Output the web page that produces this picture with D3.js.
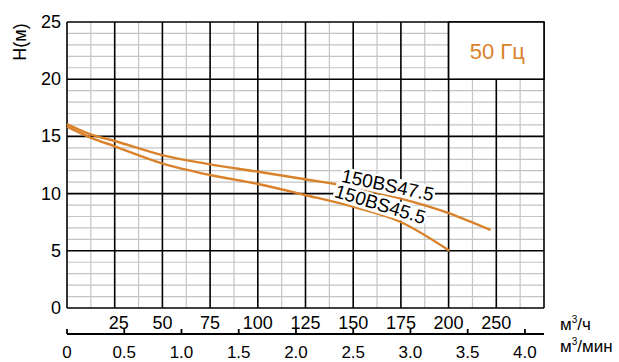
<!DOCTYPE html>
<html><head><meta charset="utf-8">
<script src="https://cdn.jsdelivr.net/npm/d3@7"></script>
<style>body{margin:0;background:#fff}svg{display:block}</style>
</head><body>
<svg id="c" width="619" height="362"></svg>
<script>
// ---- data ----
const flowMin = [0, 0.2, 0.41, 0.83, 1.25, 1.67, 2.08, 2.47, 2.91, 3.34, 3.70];
const head47 = [16.08, 15.2, 14.62, 13.37, 12.56, 11.91, 11.25, 10.6, 9.59, 8.28, 6.82];
const flowMin45 = [0, 0.2, 0.41, 0.83, 1.25, 1.67, 2.08, 2.47, 2.91, 3.34];
const head45 = [15.85, 14.92, 14.16, 12.65, 11.63, 10.84, 9.88, 8.92, 7.54, 5.01];
const seriesNames = ["150BS47.5", "150BS45.5"];
const topTickValues = [25, 50, 75, 100, 125, 150, 175, 200, 225];
const topTickLabels = ["25", "50", "75", "100", "125", "150", "175", "200", "250"];
const bottomTicks = [0, 0.5, 1.0, 1.5, 2.0, 2.5, 3.0, 3.5, 4.0];
const yTicks = [0, 5, 10, 15, 20, 25];

const orange = "#d9822b";
const font = "'Liberation Sans', Arial, sans-serif";
const svg = d3.select("#c");
const L = 67, R = 544, T = 22, B = 308;
const xH = d3.scaleLinear().domain([0, 250]).range([L, R]);        // m³/h
const xM = d3.scaleLinear().domain([0, 250 / 60]).range([L, R]);   // m³/min
const y = d3.scaleLinear().domain([0, 25]).range([B, T]);

// minor grid
const g = svg.append("g");
g.selectAll(".vm").data(d3.range(12.5, 250, 25)).join("line")
  .attr("x1", d => xH(d)).attr("x2", d => xH(d)).attr("y1", T).attr("y2", B)
  .attr("stroke", "#c4c4c4").attr("stroke-width", 1.2);
g.selectAll(".hm").data(d3.range(1, 25).filter(v => v % 5)).join("line")
  .attr("x1", L).attr("x2", R).attr("y1", d => y(d)).attr("y2", d => y(d))
  .attr("stroke", "#c4c4c4").attr("stroke-width", 1.2);
// major grid
g.selectAll(".vM").data(d3.range(0, 251, 25)).join("line")
  .attr("x1", d => xH(d)).attr("x2", d => xH(d)).attr("y1", T).attr("y2", B)
  .attr("stroke", "#000").attr("stroke-width", 1.6);
g.selectAll(".hM").data(yTicks).join("line")
  .attr("x1", L).attr("x2", R).attr("y1", d => y(d)).attr("y2", d => y(d))
  .attr("stroke", "#000").attr("stroke-width", 1.6);

// 50 Hz box
svg.append("rect").attr("x", xH(200)).attr("y", y(25)).attr("width", xH(250) - xH(200))
  .attr("height", y(20) - y(25)).attr("fill", "#fff").attr("stroke", "#000").attr("stroke-width", 1.6);
svg.append("text").attr("x", (xH(200) + xH(250)) / 2 + 1).attr("y", (y(25) + y(20)) / 2 + 8)
  .attr("text-anchor", "middle").attr("font-family", font).attr("font-size", 22)
  .attr("fill", orange).text("50 Гц");

// curves
const line = d3.line().x(d => xM(d[0])).y(d => y(d[1])).curve(d3.curveMonotoneX);
svg.append("path").datum(flowMin.map((q, i) => [q, head47[i]])).attr("d", line)
  .attr("fill", "none").attr("stroke", orange).attr("stroke-width", 2.4);
svg.append("path").datum(flowMin45.map((q, i) => [q, head45[i]])).attr("d", line)
  .attr("fill", "none").attr("stroke", orange).attr("stroke-width", 2.4);

// curve labels
function label(txt, cx, cy, ang) {
  const lg = svg.append("g").attr("transform", `translate(${cx},${cy}) rotate(${ang})`);
  const t = lg.append("text").attr("text-anchor", "middle").attr("font-family", font)
    .attr("font-size", 19).attr("fill", "#000").text(txt);
  const bb = t.node().getBBox();
  lg.insert("rect", "text").attr("x", bb.x - 1).attr("y", bb.y + 2).attr("width", bb.width + 2)
    .attr("height", bb.height - 3).attr("fill", "#fff");
}
label(seriesNames[0], xM(2.79), y(10.1) - 1, 12);
label(seriesNames[1], xM(2.72), y(8.35) - 2, 17);

// y axis labels
svg.selectAll(".yl").data(yTicks).join("text")
  .attr("x", 61).attr("y", d => y(d) + 6).attr("text-anchor", "end")
  .attr("font-family", font).attr("font-size", 18).text(d => d);
svg.append("text").attr("transform", `translate(26,42) rotate(-90)`).attr("text-anchor", "middle")
  .attr("font-family", font).attr("font-size", 18).text("H(м)");

// top (m³/h) labels
svg.selectAll(".tl").data(topTickValues).join("text")
  .attr("x", (d, i) => xH(d) + (i === 0 ? 4 : 0)).attr("y", 329).attr("text-anchor", "middle")
  .attr("font-family", font).attr("font-size", 18).text((d, i) => topTickLabels[i]);

// bottom axis (m³/min)
const axY = 334;
svg.append("line").attr("x1", L).attr("x2", R).attr("y1", axY).attr("y2", axY)
  .attr("stroke", "#000").attr("stroke-width", 1.8);
svg.selectAll(".bt").data(bottomTicks).join("line")
  .attr("x1", d => xM(d)).attr("x2", d => xM(d)).attr("y1", axY).attr("y2", axY - 5)
  .attr("stroke", "#000").attr("stroke-width", 1.8);
svg.selectAll(".bl").data(bottomTicks).join("text")
  .attr("x", d => xM(d)).attr("y", 358).attr("text-anchor", "middle")
  .attr("font-family", font).attr("font-size", 17).text(d => d.toFixed(d === 0 ? 0 : 1));

// unit labels
const u1 = svg.append("text").attr("x", 560).attr("y", 330).attr("font-family", font).attr("font-size", 17);
u1.append("tspan").text("м");
u1.append("tspan").attr("font-size", 10).attr("dy", -7).text("3");
u1.append("tspan").attr("dy", 7).text("/ч");
const u2 = svg.append("text").attr("x", 560).attr("y", 352).attr("font-family", font).attr("font-size", 17);
u2.append("tspan").text("м");
u2.append("tspan").attr("font-size", 10).attr("dy", -7).text("3");
u2.append("tspan").attr("dy", 7).text("/мин");
</script>
</body></html>
